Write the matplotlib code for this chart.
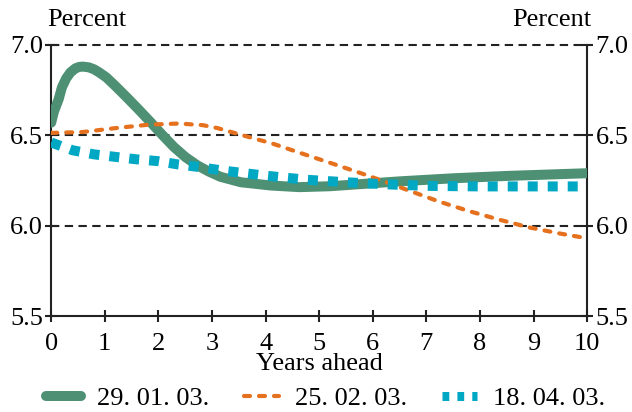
import matplotlib.pyplot as plt

plt.rcParams['font.family'] = ['Liberation Serif', 'DejaVu Serif']
plt.rcParams['font.size'] = 19

# series (years ahead, percent)
x_jan = [0, 0.05, 0.14, 0.2, 0.28, 0.36, 0.45, 0.52, 0.59, 0.7, 0.8, 0.9, 1.03, 1.2, 1.41,
         1.63, 1.85, 2.07, 2.29, 2.51, 2.73, 2.95, 3.16, 3.54, 4.1, 4.63, 5.2, 5.88, 6.5,
         7.5, 8.5, 10]
y_jan = [6.57, 6.63, 6.70, 6.765, 6.815, 6.848, 6.87, 6.878, 6.88, 6.876, 6.865, 6.847, 6.82,
         6.772, 6.71, 6.643, 6.574, 6.503, 6.435, 6.378, 6.333, 6.298, 6.27, 6.24, 6.222, 6.213,
         6.218, 6.232, 6.245, 6.262, 6.275, 6.29]

x_feb = [0, 0.59, 1.21, 1.83, 2.39, 2.83, 3.1, 3.57, 4.13, 4.69, 5.25, 5.81, 6.37,
         6.62, 7.24, 7.8, 8.36, 8.92, 9.48, 10]
y_feb = [6.513, 6.518, 6.54, 6.559, 6.565, 6.556, 6.54, 6.50, 6.454, 6.398, 6.343, 6.287, 6.228,
         6.20, 6.133, 6.08, 6.033, 5.99, 5.957, 5.93]

x_apr = [0, 0.4, 0.81, 1.21, 1.59, 1.99, 2.36, 2.77, 3.17, 3.95, 4.76, 5.5, 6.31, 7, 8, 10]
y_apr = [6.46, 6.417, 6.394, 6.38, 6.367, 6.357, 6.339, 6.324, 6.306, 6.278, 6.254, 6.24,
         6.228, 6.22, 6.217, 6.217]

labels = ['29. 01. 03.', '25. 02. 03.', '18. 04. 03.']
x_ticks = list(range(0, 11))
y_ticks = [5.5, 6.0, 6.5, 7.0]
grid_levels = [6.0, 6.5, 7.0]

fig = plt.figure(figsize=(6.32, 4.12), dpi=100)
ax = fig.add_axes([0.081, 0.233, 0.848, 0.658])

for g in grid_levels:
    ax.axhline(g, color='#222222', lw=1.5, dashes=(4, 2.6), clip_on=False, zorder=1)

ax.plot(x_jan, y_jan, color='#4e9073', lw=7.2, solid_capstyle='round',
        solid_joinstyle='round', label=labels[0], zorder=3)
ax.plot(x_feb, y_feb, color='#e5711e', lw=3, dashes=(1.44, 2.16), dash_capstyle='round',
        label=labels[1], zorder=4)
ax.plot(x_apr, y_apr, color='#00a8c4', lw=7.2, dashes=(1, 1), dash_capstyle='butt',
        label=labels[2], zorder=5)

ax.set_xlim(0, 10)
ax.set_ylim(5.5, 7.0)
ax.set_xticks(x_ticks)
ax.set_yticks(y_ticks)
ax.set_yticklabels(['%.1f' % v for v in y_ticks])
ax.spines['top'].set_visible(False)
for s in ['left', 'right', 'bottom']:
    ax.spines[s].set_linewidth(1.5)
    ax.spines[s].set_color('#222222')
ax.tick_params(direction='inout', length=8, width=1.5, color='#222222',
               right=True, labelright=True, pad=2)
ax.tick_params(axis='x', pad=8)
ax.set_xlabel('Years ahead', labelpad=-1)

fig.text(47 / 632, 1 - 20 / 412, 'Percent', ha='left', va='center')
fig.text(591 / 632, 1 - 20 / 412, 'Percent', ha='right', va='center')

leg = fig.legend(loc='center', bbox_to_anchor=(0.515, 1 - 398 / 412), ncol=3, frameon=False,
                 handlelength=1.35, columnspacing=1.3, handletextpad=0.6, borderaxespad=0)
leg.get_lines()[2].set_linewidth(6.5)
leg.get_lines()[2].set_dashes((0.75, 0.9))

fig.savefig('out.png', dpi=100)
